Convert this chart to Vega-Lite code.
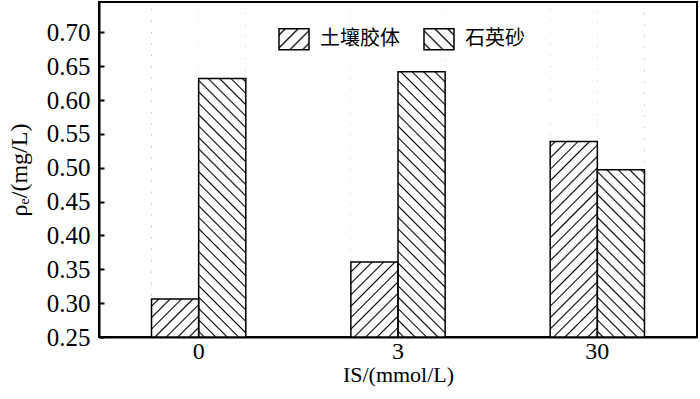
{
"$schema": "https://vega.github.io/schema/vega-lite/v6.json",
"width": 598, "height": 335,
"autosize": {"type": "none"},
"padding": {"left": 99, "top": 2, "right": 3, "bottom": 62},
"background": "white",
"data": {"values": [
{"IS": "0", "series": "土壤胶体", "value": 0.306},
{"IS": "0", "series": "石英砂", "value": 0.632},
{"IS": "3", "series": "土壤胶体", "value": 0.361},
{"IS": "3", "series": "石英砂", "value": 0.642},
{"IS": "30", "series": "土壤胶体", "value": 0.539},
{"IS": "30", "series": "石英砂", "value": 0.497}
]},
"encoding": {
"x": {"field": "IS", "type": "nominal", "sort": ["0", "3", "30"], "scale": {"paddingInner": 0.527, "paddingOuter": 0.2635},
 "axis": {"title": "IS/(mmol/L)", "labelAngle": 0, "ticks": false, "labelPadding": 2, "labelFontSize": 24, "labelFont": "Liberation Serif", "labelColor": "black", "domainColor": "black", "domainWidth": 2, "titleFont": "Liberation Serif", "titleFontSize": 22, "titleFontWeight": "normal", "titleColor": "black", "titleBaseline": "alphabetic", "titleY": 44}},
"xOffset": {"field": "series", "type": "nominal", "sort": ["土壤胶体", "石英砂"]}
},
"layer": [
{"mark": {"type": "bar"},
 "encoding": {
  "y": {"datum": 0.25, "type": "quantitative", "scale": {"domain": [0.25, 0.745], "nice": false, "zero": false},
   "axis": {"title": "ρₑ/(mg/L)", "values": [0.25, 0.3, 0.35, 0.4, 0.45, 0.5, 0.55, 0.6, 0.65, 0.7], "format": ".2f", "tickSize": -5, "tickWidth": 2, "tickColor": "black", "labelPadding": 14, "labelFontSize": 25, "labelFont": "Liberation Serif", "labelColor": "black", "domainColor": "black", "domainWidth": 2, "grid": false, "titleFont": "Liberation Serif", "titleFontSize": 24, "titleFontWeight": "normal", "titleColor": "black", "titleX": -68}},
  "y2": {"datum": 0.25},
  "fill": {"field": "series", "type": "nominal", "sort": ["土壤胶体", "石英砂"],
   "scale": {"range": [
    {"expr": "{gradient:'linear',x1:0,y1:0,x2:1.141,y2:0.799,stops:[{offset:0.09,color:'#fff'},{offset:0.125,color:'#000'},{offset:0.16,color:'#fff'},{offset:0.34,color:'#fff'},{offset:0.375,color:'#000'},{offset:0.41,color:'#fff'},{offset:0.59,color:'#fff'},{offset:0.625,color:'#000'},{offset:0.66,color:'#fff'},{offset:0.84,color:'#fff'},{offset:0.875,color:'#000'},{offset:0.91,color:'#fff'}]}"},
    {"expr": "{gradient:'linear',x1:0,y1:1,x2:1.141,y2:0.201,stops:[{offset:0.09,color:'#fff'},{offset:0.125,color:'#000'},{offset:0.16,color:'#fff'},{offset:0.34,color:'#fff'},{offset:0.375,color:'#000'},{offset:0.41,color:'#fff'},{offset:0.59,color:'#fff'},{offset:0.625,color:'#000'},{offset:0.66,color:'#fff'},{offset:0.84,color:'#fff'},{offset:0.875,color:'#000'},{offset:0.91,color:'#fff'}]}"}
   ]},
   "legend": {"title": null, "orient": "none", "legendX": 179, "legendY": 21, "direction": "horizontal",
    "symbolType": "M-1,-0.7H1V0.7H-1Z", "symbolSize": 900, "symbolStrokeWidth": 1.5, "symbolStrokeColor": "black", "symbolOpacity": 1,
    "labelFont": "Noto Sans CJK SC", "labelFontSize": 20, "labelColor": "black", "labelOffset": 10, "columnPadding": 21}}
 }},
{"mark": {"type": "bar"},
 "encoding": {
  "y": {"datum": 0.742, "type": "quantitative", "scale": {"domain": [0.25, 0.745], "nice": false, "zero": false},
   "axis": {"title": "ρₑ/(mg/L)", "values": [0.25, 0.3, 0.35, 0.4, 0.45, 0.5, 0.55, 0.6, 0.65, 0.7], "format": ".2f", "tickSize": -5, "tickWidth": 2, "tickColor": "black", "labelPadding": 14, "labelFontSize": 25, "labelFont": "Liberation Serif", "labelColor": "black", "domainColor": "black", "domainWidth": 2, "grid": false, "titleFont": "Liberation Serif", "titleFontSize": 24, "titleFontWeight": "normal", "titleColor": "black", "titleX": -68}},
  "y2": {"datum": 0.25},
  "fill": {"condition": {"test": "datum.series === '土壤胶体'", "value": {"gradient": "linear", "x1": 0, "y1": 0, "x2": 0.1585, "y2": 1.1192, "stops": [
{"offset":0.011,"color":"#fff"},{"offset":0.015,"color":"#000"},{"offset":0.019,"color":"#fff"},
{"offset":0.041,"color":"#fff"},{"offset":0.045,"color":"#000"},{"offset":0.049,"color":"#fff"},
{"offset":0.071,"color":"#fff"},{"offset":0.075,"color":"#000"},{"offset":0.079,"color":"#fff"},
{"offset":0.101,"color":"#fff"},{"offset":0.105,"color":"#000"},{"offset":0.109,"color":"#fff"},
{"offset":0.131,"color":"#fff"},{"offset":0.135,"color":"#000"},{"offset":0.139,"color":"#fff"},
{"offset":0.161,"color":"#fff"},{"offset":0.165,"color":"#000"},{"offset":0.169,"color":"#fff"},
{"offset":0.191,"color":"#fff"},{"offset":0.195,"color":"#000"},{"offset":0.199,"color":"#fff"},
{"offset":0.221,"color":"#fff"},{"offset":0.225,"color":"#000"},{"offset":0.229,"color":"#fff"},
{"offset":0.251,"color":"#fff"},{"offset":0.255,"color":"#000"},{"offset":0.259,"color":"#fff"},
{"offset":0.281,"color":"#fff"},{"offset":0.285,"color":"#000"},{"offset":0.289,"color":"#fff"},
{"offset":0.311,"color":"#fff"},{"offset":0.315,"color":"#000"},{"offset":0.319,"color":"#fff"},
{"offset":0.341,"color":"#fff"},{"offset":0.345,"color":"#000"},{"offset":0.349,"color":"#fff"},
{"offset":0.371,"color":"#fff"},{"offset":0.375,"color":"#000"},{"offset":0.379,"color":"#fff"},
{"offset":0.401,"color":"#fff"},{"offset":0.405,"color":"#000"},{"offset":0.409,"color":"#fff"},
{"offset":0.431,"color":"#fff"},{"offset":0.435,"color":"#000"},{"offset":0.439,"color":"#fff"},
{"offset":0.461,"color":"#fff"},{"offset":0.465,"color":"#000"},{"offset":0.469,"color":"#fff"},
{"offset":0.491,"color":"#fff"},{"offset":0.495,"color":"#000"},{"offset":0.499,"color":"#fff"},
{"offset":0.521,"color":"#fff"},{"offset":0.525,"color":"#000"},{"offset":0.529,"color":"#fff"},
{"offset":0.551,"color":"#fff"},{"offset":0.555,"color":"#000"},{"offset":0.559,"color":"#fff"},
{"offset":0.581,"color":"#fff"},{"offset":0.585,"color":"#000"},{"offset":0.589,"color":"#fff"},
{"offset":0.611,"color":"#fff"},{"offset":0.615,"color":"#000"},{"offset":0.619,"color":"#fff"},
{"offset":0.641,"color":"#fff"},{"offset":0.645,"color":"#000"},{"offset":0.649,"color":"#fff"},
{"offset":0.671,"color":"#fff"},{"offset":0.675,"color":"#000"},{"offset":0.679,"color":"#fff"},
{"offset":0.701,"color":"#fff"},{"offset":0.705,"color":"#000"},{"offset":0.709,"color":"#fff"},
{"offset":0.731,"color":"#fff"},{"offset":0.735,"color":"#000"},{"offset":0.739,"color":"#fff"},
{"offset":0.761,"color":"#fff"},{"offset":0.765,"color":"#000"},{"offset":0.769,"color":"#fff"},
{"offset":0.791,"color":"#fff"},{"offset":0.795,"color":"#000"},{"offset":0.799,"color":"#fff"},
{"offset":0.821,"color":"#fff"},{"offset":0.825,"color":"#000"},{"offset":0.829,"color":"#fff"},
{"offset":0.851,"color":"#fff"},{"offset":0.855,"color":"#000"},{"offset":0.859,"color":"#fff"},
{"offset":0.881,"color":"#fff"},{"offset":0.885,"color":"#000"},{"offset":0.889,"color":"#fff"},
{"offset":0.911,"color":"#fff"},{"offset":0.915,"color":"#000"},{"offset":0.919,"color":"#fff"},
{"offset":0.941,"color":"#fff"},{"offset":0.945,"color":"#000"},{"offset":0.949,"color":"#fff"},
{"offset":0.971,"color":"#fff"},{"offset":0.975,"color":"#000"},{"offset":0.979,"color":"#fff"}
]}},
  "value": {"gradient": "linear", "x1": 0, "y1": 1, "x2": 0.1585, "y2": -0.1192, "stops": [
{"offset":0.011,"color":"#fff"},{"offset":0.015,"color":"#000"},{"offset":0.019,"color":"#fff"},
{"offset":0.041,"color":"#fff"},{"offset":0.045,"color":"#000"},{"offset":0.049,"color":"#fff"},
{"offset":0.071,"color":"#fff"},{"offset":0.075,"color":"#000"},{"offset":0.079,"color":"#fff"},
{"offset":0.101,"color":"#fff"},{"offset":0.105,"color":"#000"},{"offset":0.109,"color":"#fff"},
{"offset":0.131,"color":"#fff"},{"offset":0.135,"color":"#000"},{"offset":0.139,"color":"#fff"},
{"offset":0.161,"color":"#fff"},{"offset":0.165,"color":"#000"},{"offset":0.169,"color":"#fff"},
{"offset":0.191,"color":"#fff"},{"offset":0.195,"color":"#000"},{"offset":0.199,"color":"#fff"},
{"offset":0.221,"color":"#fff"},{"offset":0.225,"color":"#000"},{"offset":0.229,"color":"#fff"},
{"offset":0.251,"color":"#fff"},{"offset":0.255,"color":"#000"},{"offset":0.259,"color":"#fff"},
{"offset":0.281,"color":"#fff"},{"offset":0.285,"color":"#000"},{"offset":0.289,"color":"#fff"},
{"offset":0.311,"color":"#fff"},{"offset":0.315,"color":"#000"},{"offset":0.319,"color":"#fff"},
{"offset":0.341,"color":"#fff"},{"offset":0.345,"color":"#000"},{"offset":0.349,"color":"#fff"},
{"offset":0.371,"color":"#fff"},{"offset":0.375,"color":"#000"},{"offset":0.379,"color":"#fff"},
{"offset":0.401,"color":"#fff"},{"offset":0.405,"color":"#000"},{"offset":0.409,"color":"#fff"},
{"offset":0.431,"color":"#fff"},{"offset":0.435,"color":"#000"},{"offset":0.439,"color":"#fff"},
{"offset":0.461,"color":"#fff"},{"offset":0.465,"color":"#000"},{"offset":0.469,"color":"#fff"},
{"offset":0.491,"color":"#fff"},{"offset":0.495,"color":"#000"},{"offset":0.499,"color":"#fff"},
{"offset":0.521,"color":"#fff"},{"offset":0.525,"color":"#000"},{"offset":0.529,"color":"#fff"},
{"offset":0.551,"color":"#fff"},{"offset":0.555,"color":"#000"},{"offset":0.559,"color":"#fff"},
{"offset":0.581,"color":"#fff"},{"offset":0.585,"color":"#000"},{"offset":0.589,"color":"#fff"},
{"offset":0.611,"color":"#fff"},{"offset":0.615,"color":"#000"},{"offset":0.619,"color":"#fff"},
{"offset":0.641,"color":"#fff"},{"offset":0.645,"color":"#000"},{"offset":0.649,"color":"#fff"},
{"offset":0.671,"color":"#fff"},{"offset":0.675,"color":"#000"},{"offset":0.679,"color":"#fff"},
{"offset":0.701,"color":"#fff"},{"offset":0.705,"color":"#000"},{"offset":0.709,"color":"#fff"},
{"offset":0.731,"color":"#fff"},{"offset":0.735,"color":"#000"},{"offset":0.739,"color":"#fff"},
{"offset":0.761,"color":"#fff"},{"offset":0.765,"color":"#000"},{"offset":0.769,"color":"#fff"},
{"offset":0.791,"color":"#fff"},{"offset":0.795,"color":"#000"},{"offset":0.799,"color":"#fff"},
{"offset":0.821,"color":"#fff"},{"offset":0.825,"color":"#000"},{"offset":0.829,"color":"#fff"},
{"offset":0.851,"color":"#fff"},{"offset":0.855,"color":"#000"},{"offset":0.859,"color":"#fff"},
{"offset":0.881,"color":"#fff"},{"offset":0.885,"color":"#000"},{"offset":0.889,"color":"#fff"},
{"offset":0.911,"color":"#fff"},{"offset":0.915,"color":"#000"},{"offset":0.919,"color":"#fff"},
{"offset":0.941,"color":"#fff"},{"offset":0.945,"color":"#000"},{"offset":0.949,"color":"#fff"},
{"offset":0.971,"color":"#fff"},{"offset":0.975,"color":"#000"},{"offset":0.979,"color":"#fff"}
]}}
 }},
{"mark": {"type": "bar", "fill": "white", "strokeWidth": 0},
 "encoding": {
  "y": {"field": "value", "type": "quantitative", "stack": null, "scale": {"domain": [0.25, 0.745], "nice": false, "zero": false},
   "axis": {"title": "ρₑ/(mg/L)", "values": [0.25, 0.3, 0.35, 0.4, 0.45, 0.5, 0.55, 0.6, 0.65, 0.7], "format": ".2f", "tickSize": -5, "tickWidth": 2, "tickColor": "black", "labelPadding": 14, "labelFontSize": 25, "labelFont": "Liberation Serif", "labelColor": "black", "domainColor": "black", "domainWidth": 2, "grid": false, "titleFont": "Liberation Serif", "titleFontSize": 24, "titleFontWeight": "normal", "titleColor": "black", "titleX": -68}},
  "y2": {"datum": 0.742}
 }},
{"mark": {"type": "bar", "fill": "transparent", "stroke": "black", "strokeWidth": 1.5},
 "encoding": {
  "y": {"field": "value", "type": "quantitative", "stack": null, "scale": {"domain": [0.25, 0.745], "nice": false, "zero": false},
   "axis": {"title": "ρₑ/(mg/L)", "values": [0.25, 0.3, 0.35, 0.4, 0.45, 0.5, 0.55, 0.6, 0.65, 0.7], "format": ".2f", "tickSize": -5, "tickWidth": 2, "tickColor": "black", "labelPadding": 14, "labelFontSize": 25, "labelFont": "Liberation Serif", "labelColor": "black", "domainColor": "black", "domainWidth": 2, "grid": false, "titleFont": "Liberation Serif", "titleFontSize": 24, "titleFontWeight": "normal", "titleColor": "black", "titleX": -68}},
  "y2": {"datum": 0.25}
 }}
],
"config": {"view": {"stroke": "black", "strokeWidth": 2}}
}
